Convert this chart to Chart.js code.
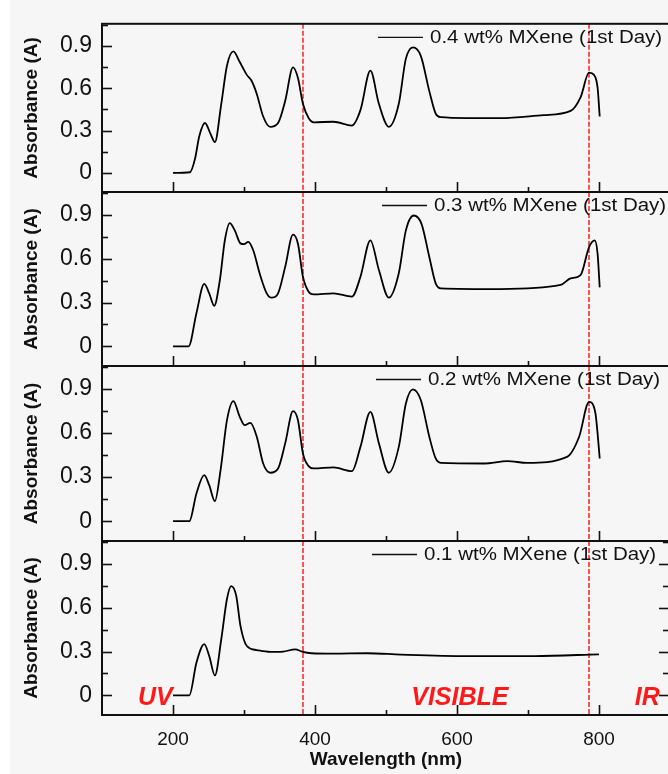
<!DOCTYPE html>
<html>
<head>
<meta charset="utf-8">
<script src="https://cdn.jsdelivr.net/npm/chart.js@4.4.1/dist/chart.umd.min.js"></script>
<style>
  html, body { margin:0; padding:0; width:668px; height:774px; overflow:hidden; background:#f6f6f6; }
  #strip { position:absolute; left:0; top:0; width:10px; height:774px; background:#fff; }
  canvas { position:absolute; left:0; top:0; }
</style>
</head>
<body>
<div id="strip"></div>
<canvas id="c0" width="700" height="774"></canvas>
<canvas id="c1" width="700" height="774"></canvas>
<canvas id="c2" width="700" height="774"></canvas>
<canvas id="c3" width="700" height="774"></canvas>
<script>
// ---------------- DATA ----------------
const seriesLabels = ['0.4 wt% MXene (1st Day)', '0.3 wt% MXene (1st Day)', '0.2 wt% MXene (1st Day)', '0.1 wt% MXene (1st Day)'];

const wl04  = [200,224,231,237,245,253,259,268,276,285,294,304,311,318,327,337,348,358,369,376,383,391,398,426,452,464,478,490,504,518,528,538,549,561,570,577,614,661,722,760,774,786,793,798,801];
const abs04 = [0,0.005,0.1,0.26,0.354,0.275,0.218,0.49,0.76,0.861,0.786,0.695,0.65,0.56,0.40,0.327,0.354,0.51,0.748,0.673,0.49,0.389,0.359,0.363,0.336,0.445,0.725,0.49,0.327,0.49,0.81,0.89,0.83,0.58,0.42,0.395,0.389,0.389,0.41,0.44,0.536,0.711,0.695,0.605,0.40];

const wl03  = [200,222,233,244,251,258,266,273,280,287,295,300,306,313,322,332,339,348,358,369,376,383,391,398,426,452,464,478,490,504,518,528,539,550,561,570,577,661,746,760,774,786,794,798,801];
const abs03 = [0,0,0.227,0.427,0.363,0.277,0.454,0.726,0.844,0.794,0.705,0.70,0.716,0.658,0.5,0.363,0.333,0.363,0.544,0.765,0.703,0.476,0.374,0.356,0.363,0.34,0.476,0.726,0.522,0.333,0.5,0.794,0.896,0.839,0.612,0.431,0.397,0.392,0.42,0.465,0.488,0.68,0.726,0.635,0.404];

const wl02  = [200,223,233,244,251,259,267,276,285,294,301,309,318,327,337,348,358,369,376,383,391,398,426,452,464,478,490,504,518,528,538,549,561,570,577,638,671,699,755,772,786,795,798,801];
const abs02 = [0,0,0.189,0.314,0.245,0.136,0.348,0.688,0.818,0.711,0.654,0.67,0.575,0.393,0.33,0.359,0.53,0.75,0.688,0.461,0.375,0.359,0.366,0.341,0.506,0.745,0.53,0.33,0.506,0.802,0.898,0.825,0.575,0.427,0.397,0.393,0.409,0.397,0.438,0.575,0.813,0.734,0.598,0.427];

const wl01  = [200,223,233,244,251,259,268,276,282,289,295,304,318,337,355,372,383,395,426,474,521,615,709,800];
const abs01 = [0,0,0.223,0.35,0.269,0.136,0.384,0.66,0.748,0.683,0.476,0.338,0.31,0.297,0.299,0.315,0.297,0.288,0.285,0.288,0.279,0.269,0.269,0.281];

const xTickValues  = [200, 400, 600, 800];
const xMinorValues = [300, 500, 700];
const yTickValues  = [0, 0.3, 0.6, 0.9];
const yMinorValues = [0.15, 0.45, 0.75, 1.05];
const regionBounds = [383, 786];          // red dashed boundaries (nm)
const regionNames  = ['UV', 'VISIBLE', 'IR'];

// ---------------- LAYOUT / STYLE ----------------
const panels = [
  { top: 17,  bottom: 192, wl: wl04, abs: abs04, legendX: 378 },
  { top: 192, bottom: 366, wl: wl03, abs: abs03, legendX: 382 },
  { top: 366, bottom: 541, wl: wl02, abs: abs02, legendX: 376 },
  { top: 541, bottom: 715, wl: wl01, abs: abs01, legendX: 372 }
];
const regionLabelPos = [175, 604, 868];   // nm centres of region captions
const FONT = '"Liberation Sans", Arial, Helvetica, sans-serif';
const INK = '#111';
Chart.defaults.font.family = FONT;

const decor = {
  id: 'decor',
  beforeDatasetsDraw(chart) {
    const { ctx, chartArea: { top, bottom }, scales: { x } } = chart;
    ctx.save();
    ctx.strokeStyle = '#ff2020';
    ctx.lineWidth = 1.5;
    ctx.setLineDash([5, 2]);
    regionBounds.forEach(v => {
      const px = Math.round(x.getPixelForValue(v));
      ctx.beginPath(); ctx.moveTo(px, top); ctx.lineTo(px, bottom); ctx.stroke();
    });
    ctx.restore();
  },
  afterDraw(chart, args, opts) {
    const { ctx, chartArea: { left, right, top, bottom }, scales: { x, y } } = chart;
    ctx.save();
    ctx.strokeStyle = INK;
    ctx.lineWidth = 2;
    ctx.setLineDash([]);
    ctx.strokeRect(left, top, right - left, bottom - top);
    ctx.lineWidth = 1.6;
    const tick = (x1, y1, x2, y2) => { ctx.beginPath(); ctx.moveTo(x1, y1); ctx.lineTo(x2, y2); ctx.stroke(); };
    yTickValues.forEach(v => { const py = Math.round(y.getPixelForValue(v)) + 0.5; tick(left, py, left + 10, py); if (opts.rightTicks) tick(right, py, right - 11, py); });
    yMinorValues.forEach(v => { const py = Math.round(y.getPixelForValue(v)) + 0.5; tick(left, py, left + 6, py); if (opts.rightTicks) tick(right, py, right - 7, py); });
    xTickValues.forEach(v => { const px = Math.round(x.getPixelForValue(v)) + 0.5; tick(px, bottom, px, bottom - 10); });
    xMinorValues.forEach(v => { const px = Math.round(x.getPixelForValue(v)) + 0.5; tick(px, bottom, px, bottom - 5); });

    // legend
    const ly = top + 13.5;
    const lx = opts.legendX;
    ctx.lineWidth = 1.3;
    tick(lx, ly, lx + 45, ly);
    ctx.fillStyle = INK;
    ctx.font = '17.5px ' + FONT;
    ctx.textBaseline = 'middle';
    ctx.textAlign = 'left';
    ctx.translate(lx + 52, ly + 1);
    ctx.scale(1.17, 1);
    ctx.fillText(opts.label, 0, 0);
    ctx.restore();

    if (opts.regions) {
      ctx.save();
      ctx.fillStyle = '#ff1a1a';
      ctx.font = 'italic bold 25px ' + FONT;
      ctx.textAlign = 'center';
      ctx.textBaseline = 'middle';
      const py = y.getPixelForValue(-0.015);
      regionNames.forEach((t, i) => ctx.fillText(t, x.getPixelForValue(regionLabelPos[i]), py + 1));
      ctx.restore();
    }
  }
};

panels.forEach((p, i) => {
  const last = i === panels.length - 1;
  const points = p.wl.map((w, k) => ({ x: w, y: p.abs[k] }));
  const xScale = last ? {
    type: 'linear', min: 100, max: 900, display: true,
    afterBuildTicks: s => { s.ticks = xTickValues.map(v => ({ value: v })); },
    ticks: { font: { size: 19 }, color: INK, padding: 13, maxRotation: 0, autoSkip: false, callback: v => String(v) },
    grid: { display: false, drawTicks: false },
    border: { display: false },
    title: { display: true, text: 'Wavelength (nm)', font: { size: 19, weight: 'bold' }, color: INK, padding: { top: 0, bottom: 3 } },
    afterFit: s => { s.height = 59; }
  } : { type: 'linear', min: 100, max: 900, display: false };

  new Chart(document.getElementById('c' + i), {
    type: 'line',
    data: {
      datasets: [{
        label: seriesLabels[i],
        data: points,
        borderColor: '#000',
        borderWidth: 1.8,
        pointRadius: 0,
        fill: false,
        cubicInterpolationMode: 'monotone'
      }]
    },
    options: {
      responsive: false,
      animation: false,
      layout: { padding: { left: 0, right: 30, top: p.top, bottom: last ? 0 : 774 - p.bottom } },
      plugins: {
        legend: { display: false },
        tooltip: { enabled: false },
        decor: { label: seriesLabels[i], rightTicks: last, regions: last, legendX: p.legendX }
      },
      scales: {
        x: xScale,
        y: {
          min: -0.135, max: 1.057,
          afterBuildTicks: s => { s.ticks = yTickValues.map(v => ({ value: v })); },
          ticks: { font: { size: 23 }, color: INK, padding: 10, callback: v => String(v) },
          grid: { display: false, drawTicks: false },
          border: { display: false },
          title: { display: true, text: 'Absorbance (A)', font: { size: 19, weight: 'bold' }, color: INK, padding: { top: 20, bottom: 0 } },
          afterFit: s => { s.width = 102; }
        }
      }
    },
    plugins: [decor]
  });
});
</script>
</body>
</html>
